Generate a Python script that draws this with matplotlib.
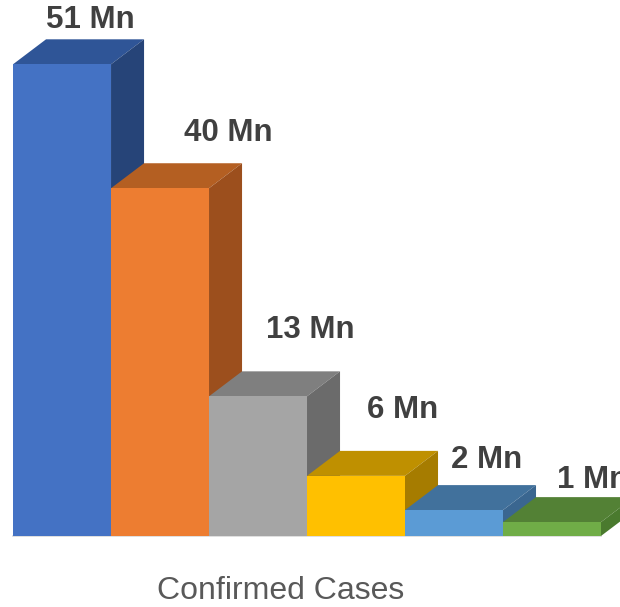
import matplotlib.pyplot as plt
from matplotlib.patches import Polygon
import numpy as np

plt.rcParams["font.family"] = ["Liberation Sans", "DejaVu Sans"]

# bar heights (million cases) and the printed labels
values = [51.0, 37.6, 15.1, 6.5, 2.8, 1.5]
labels = ["51 Mn", "40 Mn", "13 Mn", "6 Mn", "2 Mn", "1 Mn"]
axis_title = "Confirmed Cases"

front_colors = ["#4472C4", "#ED7D31", "#A5A5A5", "#FFC000", "#5B9BD5", "#70AD47"]
top_colors = ["#2F5597", "#B45F22", "#7F7F7F", "#BF9000", "#41719C", "#538135"]
side_colors = ["#264478", "#9C4F1D", "#6B6B6B", "#A67C00", "#3A6690", "#4A7A2E"]

# label nudges in pixels, relative to the back top centre of each bar
label_nudge = [(-5, 19), (35, 30), (19, 41), (14, 41), (0, 25), (8, 17)]

fig = plt.figure(figsize=(6.2, 6.07), dpi=100)
ax = fig.add_axes([0, 0, 1, 1])
ax.set_xlim(-0.633, 5.694)
ax.set_ylim(-7.68, 57.95)
ax.axis("off")

# 3d depth, in data units
dx = 0.337
dy = 2.70

x = np.arange(len(values))
bars = ax.bar(x, values, width=1.0, color=front_colors, linewidth=0, zorder=2)

for i, bar in enumerate(bars):
	x0 = bar.get_x()
	x1 = x0 + bar.get_width()
	h = bar.get_height()
	z = 2 + i * 0.1
	bar.set_zorder(z + 0.02)
	top = Polygon([(x0, h), (x1, h), (x1 + dx, h + dy), (x0 + dx, h + dy)],
		closed=True, facecolor=top_colors[i], edgecolor="none", zorder=z)
	side = Polygon([(x1, 0), (x1, h), (x1 + dx, h + dy), (x1 + dx, dy)],
		closed=True, facecolor=side_colors[i], edgecolor="none", zorder=z + 0.01)
	ax.add_patch(top)
	ax.add_patch(side)
	ax.annotate(labels[i], xy=((x0 + x1) / 2 + dx, h + dy),
		xytext=label_nudge[i], textcoords="offset pixels",
		ha="center", va="center", fontsize=22.5, fontweight="bold",
		color="#404040", zorder=5, annotation_clip=False)

ax.plot([bars[0].get_x(), bars[-1].get_x() + 1.0], [0, 0], color="#D9D9D9", lw=1.2, zorder=1)

ax.text(0.452, 0.027, axis_title, transform=ax.transAxes, ha="center", va="center",
	fontsize=23, color="#595959")

fig.savefig("out.png", dpi=100)
